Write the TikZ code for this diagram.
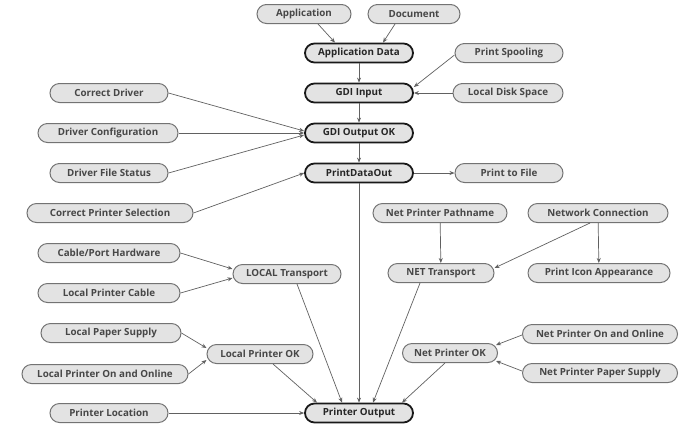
\documentclass[tikz,border=0pt]{standalone}
\usepackage{fontspec}
\setmainfont{Open Sans}
\usetikzlibrary{arrows.meta}
\begin{document}
\begin{tikzpicture}[x=1pt,y=-1pt,
 box/.style={draw=black!55, line width=1pt, fill=black!11, rounded corners=9.5pt, minimum height=19pt, inner sep=0pt, font=\fontsize{9.8}{11}\selectfont\bfseries, text=black!72},
 key/.style={box, draw=black!90, line width=1.8pt, text=black!85},
 arr/.style={-{Stealth[length=5pt,width=4pt]}, draw=black!62, line width=0.7pt},
]
\useasboundingbox[fill=white] (0,0) rectangle (692,432);
% nodes
\node[box, minimum width=94pt] (app) at (304,14) {Application};
\node[box, minimum width=92pt] (doc) at (414,14) {Document};
\node[key, minimum width=108pt] (appdata) at (359,53) {Application Data};
\node[box, minimum width=108pt] (spool) at (509,53) {Print Spooling};
\node[key, minimum width=108pt] (gdiin) at (359,93) {GDI Input};
\node[box, minimum width=110pt] (disk) at (508,93) {Local Disk Space};
\node[box, minimum width=118pt] (cdrv) at (109,93) {Correct Driver};
\node[box, minimum width=140pt] (dcfg) at (108,133) {Driver Configuration};
\node[key, minimum width=108pt] (gdiout) at (359,133) {GDI Output OK};
\node[box, minimum width=118pt] (dfs) at (109,173) {Driver File Status};
\node[key, minimum width=108pt] (pdo) at (359,173) {PrintDataOut};
\node[box, minimum width=108pt] (ptf) at (509,173) {Print to File};
\node[box, minimum width=166pt] (cps) at (110,213) {Correct Printer Selection};
\node[box, minimum width=134pt] (npp) at (440,213) {Net Printer Pathname};
\node[box, minimum width=140pt] (netc) at (598,213) {Network Connection};
\node[box, minimum width=142pt] (cable) at (109,253) {Cable/Port Hardware};
\node[box, minimum width=108pt] (localt) at (287,274) {LOCAL Transport};
\node[box, minimum width=106pt] (nett) at (441,273) {NET Transport};
\node[box, minimum width=142pt] (icon) at (599,273) {Print Icon Appearance};
\node[box, minimum width=142pt] (lpc) at (109,293) {Local Printer Cable};
\node[box, minimum width=140pt] (lps) at (111,333) {Local Paper Supply};
\node[box, minimum width=155pt] (npoo) at (600,334) {Net Printer On and Online};
\node[box, minimum width=106pt] (lpok) at (260,354) {Local Printer OK};
\node[box, minimum width=95pt] (npok) at (450,353) {Net Printer OK};
\node[box, minimum width=166pt] (lpoo) at (105,374) {Local Printer On and Online};
\node[box, minimum width=155pt] (npps) at (600,373) {Net Printer Paper Supply};
\node[box, minimum width=118pt] (ploc) at (109,413) {Printer Location};
\node[key, minimum width=108pt] (pout) at (359,413) {Printer Output};
% connectors
\draw[arr] ([xshift=14pt]app.south) -- ([xshift=-24pt]appdata.north);
\draw[arr] ([xshift=-19pt]doc.south) -- ([xshift=24pt]appdata.north);
\draw[arr] (appdata) -- (gdiin);
\draw[arr] ([yshift=-2pt]spool.west) -- ([yshift=6pt]gdiin.east);
\draw[arr] (disk) -- (gdiin);
\draw[arr] (gdiin) -- (gdiout);
\draw[arr] (cdrv.east) -- ([yshift=2pt]gdiout.west);
\draw[arr] (dcfg) -- (gdiout);
\draw[arr] (dfs.east) -- ([yshift=-2pt]gdiout.west);
\draw[arr] (gdiout) -- (pdo);
\draw[arr] (cps.east) -- (pdo.west);
\draw[arr] (pdo) -- (ptf);
\draw[arr] (pdo) -- (pout);
\draw[arr] (npp) -- (nett);
\draw[arr] ([xshift=-8pt]netc.south) -- ([yshift=5pt]nett.east);
\draw[arr] (netc) -- (icon);
\draw[arr] (cable.east) -- ([yshift=5pt]localt.west);
\draw[arr] (lpc.east) -- ([yshift=-4pt]localt.west);
\draw[arr] ([xshift=10pt]localt.south) -- ([xshift=-17pt]pout.north);
\draw[arr] ([xshift=-21pt]nett.south) -- ([xshift=14pt]pout.north);
\draw[arr] (lps.east) -- ([yshift=6pt]lpok.west);
\draw[arr] (lpoo.east) -- ([yshift=-6pt]lpok.west);
\draw[arr] ([xshift=13pt]lpok.south) -- ([xshift=-42pt]pout.north);
\draw[arr] ([xshift=-5pt]npok.south) -- ([xshift=43pt]pout.north);
\draw[arr] ([yshift=-1pt]npoo.west) -- ([xshift=-2pt,yshift=-2pt]npok.north east);
\draw[arr] ([yshift=2pt]npps.west) -- ([xshift=-2pt,yshift=2pt]npok.south east);
\draw[arr] (ploc) -- (pout);
\end{tikzpicture}
\end{document}
